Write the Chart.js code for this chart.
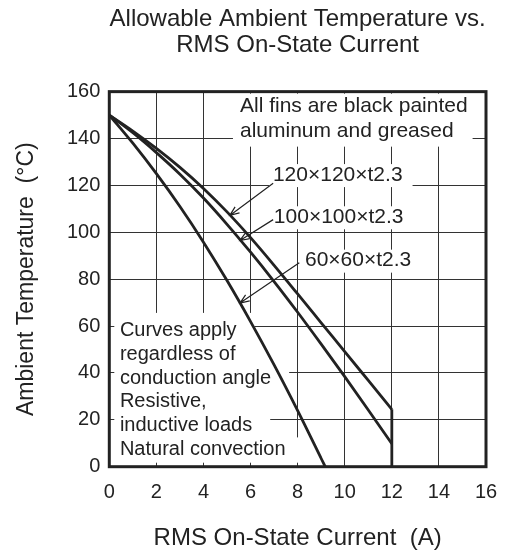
<!DOCTYPE html>
<html>
<head>
<meta charset="utf-8">
<title>Allowable Ambient Temperature vs. RMS On-State Current</title>
<script src="https://cdn.jsdelivr.net/npm/chart.js@4.4.1/dist/chart.umd.min.js"></script>
<style>
  html, body { margin: 0; padding: 0; background: #fff; }
  canvas { display: block; }
</style>
</head>
<body>
<canvas id="chart" width="506" height="550"></canvas>
<script>
// Curve values (current in A, temperature in °C)
const currentA = [0, 1, 2, 3, 4, 5, 6, 7, 8, 9, 10, 11, 12];
const temp120 = [150, 143.2, 135.8, 127.7, 118.7, 108.7, 97.7, 85.9, 73.7, 61.4, 49.1, 36.8, 24.5];
const temp100 = [150, 142.5, 134, 124.8, 114.6, 103.4, 91.5, 79, 65.9, 52.3, 38.4, 24.2, 9.8];
const current60 = [0, 1, 2, 3, 4, 5, 6, 7, 8, 9, 9.17];
const temp60 = [150, 138, 125, 111, 95.8, 79.4, 61.9, 43.4, 23.9, 3.5, 0];

const finNames = ['120×120×t2.3', '100×100×t2.3', '60×60×t2.3'];
const xTicks = [0, 2, 4, 6, 8, 10, 12, 14, 16];
const yTicks = [0, 20, 40, 60, 80, 100, 120, 140, 160];

const topNote = ['All fins are black painted', 'aluminum and greased'];
const bottomNote = ['Curves apply', 'regardless of', 'conduction angle', 'Resistive,', 'inductive loads', 'Natural convection'];

const FONT = '"Liberation Sans", Arial, Helvetica, sans-serif';
const INK = '#222';

function toPoints(xs, ys) {
    return xs.map((v, i) => ({ x: v, y: ys[i] }));
}

// the two larger fins are cut off at the current limit: vertical drop to 0
const cutoffA = currentA[currentA.length - 1];
const cutoffDrop = [
    { x: cutoffA, y: temp120[temp120.length - 1] },
    { x: cutoffA, y: 0 }
];

// Where the callouts sit, in data units
const callouts = {
    top: { x: 5.55, y: 153.6, lineHeight: 25 },
    bottom: { x: 0.45, y: 58.0, lineHeight: 23.7 },
    labels: [[6.95, 124.4], [6.99, 106.4], [8.31, 87.9]],
    from: [[6.96, 120.9], [6.96, 105.4], [8.07, 87.0]],
    to: [[5.12, 107.2], [5.55, 96.5], [5.55, 69.8]]
};

const annotations = {
    id: 'annotations',
    beforeDatasetsDraw(chart) {
        const { ctx, chartArea: area, scales: { x, y } } = chart;
        ctx.save();
        ctx.textBaseline = 'middle';
        ctx.textAlign = 'left';

        // top-right note
        ctx.font = '21px ' + FONT;
        let left = x.getPixelForValue(callouts.top.x);
        let cy = y.getPixelForValue(callouts.top.y);
        let lh = callouts.top.lineHeight;
        let w = Math.max(...topNote.map(t => ctx.measureText(t).width));
        ctx.fillStyle = '#fff';
        ctx.fillRect(left - 7, area.top + 2, w + 12, cy + lh * (topNote.length - 1) + 15 - area.top - 2);
        ctx.fillStyle = INK;
        topNote.forEach((t, i) => ctx.fillText(t, left, cy + i * lh));

        // fin size labels
        finNames.forEach((name, i) => {
            const lx = x.getPixelForValue(callouts.labels[i][0]);
            const ly = y.getPixelForValue(callouts.labels[i][1]);
            const tw = ctx.measureText(name).width;
            ctx.fillStyle = '#fff';
            ctx.fillRect(lx - 4, ly - 11, tw + 14, 23);
            ctx.fillStyle = INK;
            ctx.fillText(name, lx, ly);
        });

        // bottom-left note
        ctx.font = '20px ' + FONT;
        left = x.getPixelForValue(callouts.bottom.x);
        cy = y.getPixelForValue(callouts.bottom.y);
        lh = callouts.bottom.lineHeight;
        const minW = ctx.measureText(bottomNote[0]).width;
        bottomNote.forEach((t, i) => {
            const tw = Math.max(ctx.measureText(t).width, minW);
            const top = i === 0 ? cy - lh / 2 - 6 : cy + i * lh - lh / 2;
            const bottom = i === bottomNote.length - 1 ? area.bottom - 4 : cy + i * lh + lh / 2 + 1;
            ctx.fillStyle = '#fff';
            ctx.fillRect(area.left + 5, top, left + tw + 18 - area.left - 5, bottom - top);
        });
        ctx.fillStyle = INK;
        bottomNote.forEach((t, i) => ctx.fillText(t, left, cy + i * lh));
        ctx.restore();
    },
    afterDatasetsDraw(chart) {
        const { ctx, chartArea: area, scales: { x, y } } = chart;
        ctx.save();
        ctx.strokeStyle = INK;
        ctx.lineWidth = 1.2;
        callouts.from.forEach((f, i) => {
            const x0 = x.getPixelForValue(f[0]), y0 = y.getPixelForValue(f[1]);
            const x1 = x.getPixelForValue(callouts.to[i][0]), y1 = y.getPixelForValue(callouts.to[i][1]);
            const ang = Math.atan2(y1 - y0, x1 - x0);
            ctx.beginPath();
            ctx.moveTo(x0, y0);
            ctx.lineTo(x1, y1);
            ctx.moveTo(x1 - 10 * Math.cos(ang - 0.38), y1 - 10 * Math.sin(ang - 0.38));
            ctx.lineTo(x1, y1);
            ctx.lineTo(x1 - 10 * Math.cos(ang + 0.38), y1 - 10 * Math.sin(ang + 0.38));
            ctx.stroke();
        });

        // plot frame
        ctx.lineWidth = 3;
        ctx.strokeRect(area.left, area.top, area.right - area.left, area.bottom - area.top);
        ctx.restore();
    }
};

const curveStyle = {
    borderColor: INK,
    borderWidth: 2.8,
    pointRadius: 0,
    cubicInterpolationMode: 'monotone',
    fill: false
};

new Chart(document.getElementById('chart'), {
    type: 'line',
    data: {
        datasets: [
            { label: finNames[0], data: toPoints(currentA, temp120), ...curveStyle },
            { label: finNames[1], data: toPoints(currentA, temp100), ...curveStyle },
            { label: finNames[2], data: toPoints(current60, temp60), ...curveStyle },
            { label: 'cutoff', data: cutoffDrop, ...curveStyle, cubicInterpolationMode: 'default', tension: 0 }
        ]
    },
    options: {
        responsive: false,
        animation: false,
        layout: { padding: { right: 20 } },
        plugins: {
            legend: { display: false },
            tooltip: { enabled: false },
            title: {
                display: true,
                fullSize: false,
                text: ['Allowable Ambient Temperature vs.', 'RMS On-State Current'],
                color: INK,
                font: { family: FONT, size: 24, weight: 'normal', lineHeight: 1.08 },
                padding: { top: 6, bottom: 33.8 }
            }
        },
        scales: {
            x: {
                type: 'linear',
                min: 0,
                max: 16,
                afterBuildTicks: scale => { scale.ticks = xTicks.map(v => ({ value: v })); },
                afterFit: scale => {
                    scale.height = 83.3;
                    scale.paddingLeft = 0;
                    scale.paddingRight = 0;
                },
                grid: { color: '#333', lineWidth: 1, drawTicks: false },
                border: { display: false },
                ticks: { color: INK, padding: 14, font: { family: FONT, size: 20 } },
                title: {
                    display: true,
                    text: 'RMS On-State Current  (A)',
                    color: INK,
                    font: { family: FONT, size: 24, lineHeight: 1 },
                    padding: { top: 0, bottom: 0 }
                }
            },
            y: {
                min: 0,
                max: 160,
                afterBuildTicks: scale => { scale.ticks = yTicks.map(v => ({ value: v })); },
                afterFit: scale => { scale.width = 109.3; },
                grid: { color: '#333', lineWidth: 1, drawTicks: false },
                border: { display: false },
                ticks: { color: INK, padding: 9, font: { family: FONT, size: 20 } },
                title: {
                    display: true,
                    text: 'Ambient Temperature  (°C)',
                    color: INK,
                    font: { family: FONT, size: 23 },
                    padding: { top: 12.9, bottom: 0 }
                }
            }
        }
    },
    plugins: [annotations]
});
</script>
</body>
</html>
